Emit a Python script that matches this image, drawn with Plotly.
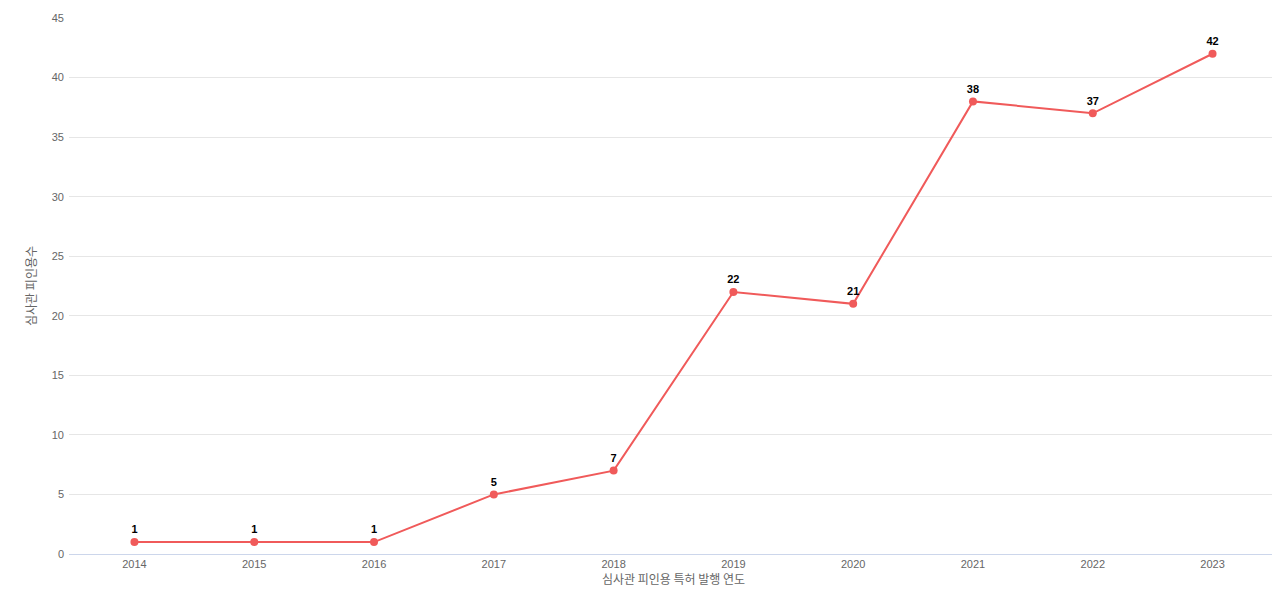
import plotly.graph_objects as go

years = ["2014", "2015", "2016", "2017", "2018", "2019", "2020", "2021", "2022", "2023"]
counts = [1, 1, 1, 5, 7, 22, 21, 38, 37, 42]

fig = go.Figure(go.Scatter(
    x=years, y=counts, mode="lines+markers+text",
    text=["<b>%d</b>" % c for c in counts], textposition="top center",
    textfont=dict(size=11, color="#000000", family="Liberation Sans"),
    line=dict(color="#f05a5a", width=2),
    marker=dict(color="#f05a5a", size=8),
    cliponaxis=False,
))
fig.update_layout(
    width=1280, height=600, plot_bgcolor="white", paper_bgcolor="white",
    margin=dict(l=61, r=10, t=10, b=54, autoexpand=False), showlegend=False,
    font=dict(family="Liberation Sans, Noto Sans CJK KR", size=11, color="#666666"),
)
fig.update_xaxes(type="category", title_text="심사관 피인용 특허 발행 연도", title_standoff=4,
                 title_font=dict(size=12, family="Noto Sans CJK KR"),
                 showline=True, linecolor="#ccd6eb", showgrid=False, ticks="", automargin=False)
fig.update_yaxes(title_text="심사관 피인용수", range=[0, 45], dtick=5, automargin=False,
                 title_font=dict(size=12, family="Noto Sans CJK KR"), title_standoff=12,
                 gridcolor="#e6e6e6", zeroline=False, ticklabelstandoff=4)
fig.write_html("out.html")
